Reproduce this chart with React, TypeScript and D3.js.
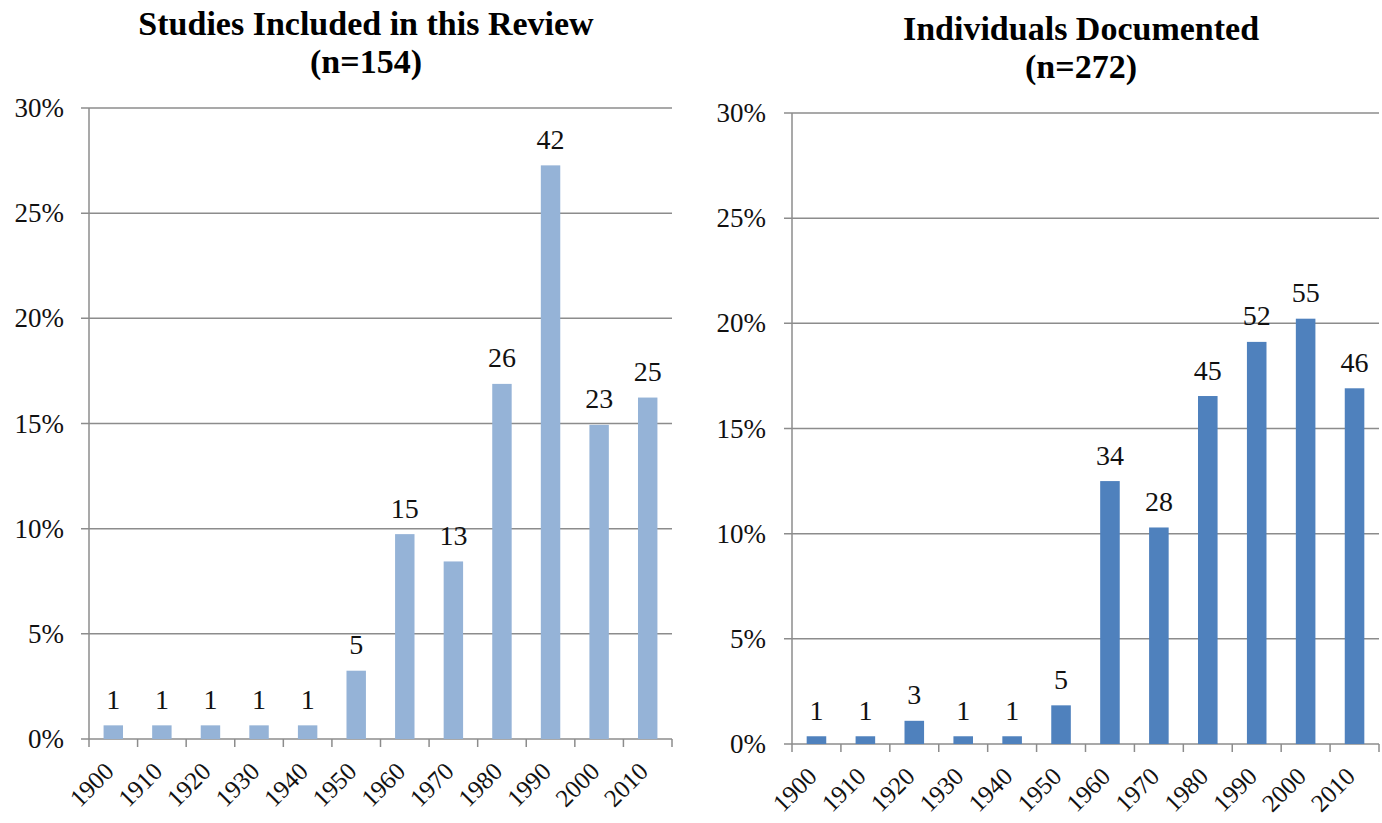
import React from "react";
import * as d3 from "d3";

const decades = ["1900", "1910", "1920", "1930", "1940", "1950", "1960", "1970", "1980", "1990", "2000", "2010"];
const studiesCounts = [1, 1, 1, 1, 1, 5, 15, 13, 26, 42, 23, 25];
const studiesTotal = 154;
const individualsCounts = [1, 1, 3, 1, 1, 5, 34, 28, 45, 52, 55, 46];
const individualsTotal = 272;
const yTicks = [0, 0.05, 0.1, 0.15, 0.2, 0.25, 0.3];

const FONT = "'Liberation Serif', 'DejaVu Serif', serif";

type PanelProps = {
  title1: string;
  title2: string;
  counts: number[];
  total: number;
  color: string;
  x0: number;
  x1: number;
  yTop: number;
  yBottom: number;
  titleX: number;
  titleY1: number;
  titleY2: number;
  labelRight: number;
};

function Panel(p: PanelProps) {
  const x = d3.scaleBand<string>().domain(decades).range([p.x0, p.x1]).paddingInner(0.6).paddingOuter(0.3);
  const y = d3.scaleLinear().domain([0, 0.3]).range([p.yBottom, p.yTop]);
  const step = (p.x1 - p.x0) / decades.length;
  const grid = "#8c8c8c";
  return (
    <g>
      <text x={p.titleX} y={p.titleY1} textAnchor="middle" fontFamily={FONT} fontWeight="bold" fontSize={34}>{p.title1}</text>
      <text x={p.titleX} y={p.titleY2} textAnchor="middle" fontFamily={FONT} fontWeight="bold" fontSize={34}>{p.title2}</text>
      {yTicks.map((t) => (
        <g key={t}>
          <line x1={p.x0 - 8} x2={p.x1} y1={y(t)} y2={y(t)} stroke={grid} strokeWidth={1.5} />
          <text x={p.labelRight} y={y(t) + 9} textAnchor="end" fontFamily={FONT} fontSize={27} fill="#111">{d3.format(".0%")(t)}</text>
        </g>
      ))}
      <line x1={p.x0} x2={p.x0} y1={p.yTop} y2={p.yBottom + 8} stroke={grid} strokeWidth={1.5} />
      {decades.map((d, i) => (
        <line key={"t" + d} x1={p.x0 + step * (i + 1)} x2={p.x0 + step * (i + 1)} y1={p.yBottom} y2={p.yBottom + 8} stroke={grid} strokeWidth={1.5} />
      ))}
      {decades.map((d, i) => {
        const v = p.counts[i] / p.total;
        const bx = x(d) as number;
        return (
          <g key={"b" + d}>
            <rect x={bx} y={y(v)} width={x.bandwidth()} height={p.yBottom - y(v)} fill={p.color} />
            <text x={bx + x.bandwidth() / 2} y={y(v) - 16.5} textAnchor="middle" fontFamily={FONT} fontSize={28} fill="#111">{p.counts[i]}</text>
          </g>
        );
      })}
      {decades.map((d) => {
        const cx = (x(d) as number) + x.bandwidth() / 2;
        return (
          <text key={"l" + d} transform={`translate(${cx + 2},${p.yBottom + 34}) rotate(-45)`} textAnchor="end" fontFamily={FONT} fontSize={25} fill="#111">{d}</text>
        );
      })}
    </g>
  );
}

export default function App() {
  return (
    <svg width={1382} height={823} style={{ position: "absolute", left: 0, top: 0, background: "#fff" }}>
      <rect width={1382} height={823} fill="#fff" />
      <Panel title1="Studies Included in this Review" title2="(n=154)" counts={studiesCounts} total={studiesTotal}
        color="#95B3D7" x0={89} x1={672} yTop={108} yBottom={739} titleX={366} titleY1={35} titleY2={73} labelRight={64} />
      <Panel title1="Individuals Documented" title2="(n=272)" counts={individualsCounts} total={individualsTotal}
        color="#4F81BD" x0={792} x1={1379} yTop={113} yBottom={744} titleX={1081} titleY1={39.5} titleY2={78} labelRight={766} />
    </svg>
  );
}
